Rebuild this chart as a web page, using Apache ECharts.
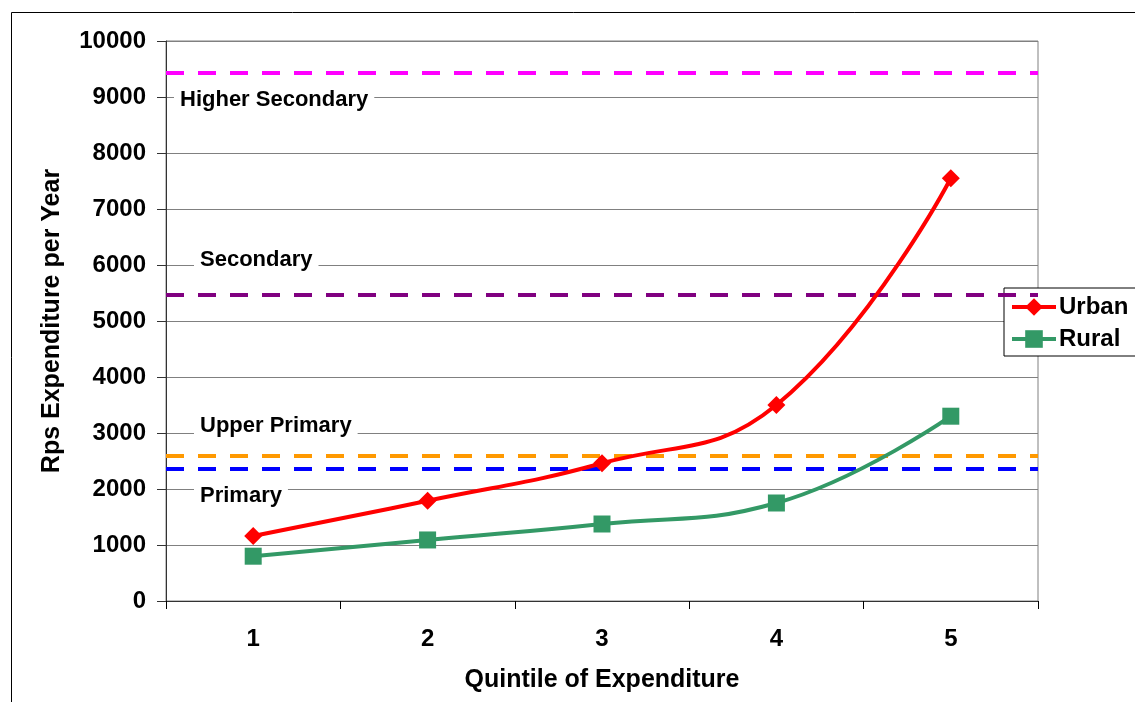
<!DOCTYPE html>
<html>
<head>
<meta charset="utf-8">
<script src="https://cdn.jsdelivr.net/npm/echarts@6/dist/echarts.min.js"></script>
<style>
html,body{margin:0;padding:0;background:#fff;}
#c{width:1135px;height:702px;}
</style>
</head>
<body>
<div id="c"></div>
<script>
var categories = ['1', '2', '3', '4', '5'];
var urban = [1160, 1790, 2460, 3500, 7550];
var rural = [800, 1090, 1375, 1750, 3300];
var refNames = ['Higher Secondary', 'Secondary', 'Upper Primary', 'Primary'];
var refValues = [9440, 5460, 2590, 2360];
var refColors = ['#FF00FF', '#800080', '#FF9900', '#0000FF'];

var FONT = 'Liberation Sans, Arial, sans-serif';
var chart = echarts.init(document.getElementById('c'), null, {renderer: 'canvas'});

var markData = refValues.map(function (v, i) {
  return {yAxis: v, lineStyle: {color: refColors[i], type: [18, 14], width: 4}};
});

var labelPos = [
  {x: 180, y: 100},
  {x: 200, y: 260},
  {x: 200, y: 426},
  {x: 200, y: 496}
];

var graphics = [{
  type: 'rect', z: 100, silent: true,
  shape: {x: 11.5, y: 12.5, width: 2000, height: 2000},
  style: {fill: 'none', stroke: '#000', lineWidth: 1}
}];
refNames.forEach(function (n, i) {
  graphics.push({
    type: 'text', z: 50,
    x: labelPos[i].x - 6, y: labelPos[i].y,
    style: {
      text: n, font: 'bold 22px ' + FONT, fill: '#000',
      verticalAlign: 'middle', backgroundColor: '#fff', padding: [2, 6]
    }
  });
});

chart.setOption({
  backgroundColor: '#fff',
  animation: false,
  grid: {left: 166, right: 97, top: 41, bottom: 101, show: true, borderColor: '#808080', borderWidth: 1},
  legend: {
    orient: 'vertical', left: 1004, top: 288,
    padding: [7, 20, 5, 6],
    backgroundColor: '#fff', borderColor: '#000', borderWidth: 1,
    itemWidth: 44, itemHeight: 22, itemGap: 8,
    lineStyle: {width: 4},
    textStyle: {fontFamily: FONT, fontWeight: 'bold', fontSize: 24, color: '#000', padding: [0, 0, 0, -2]},
    data: ['Urban', 'Rural']
  },
  xAxis: {
    type: 'category', data: categories, boundaryGap: true,
    name: 'Quintile of Expenditure', nameLocation: 'middle', nameGap: 67,
    nameTextStyle: {fontFamily: FONT, fontWeight: 'bold', fontSize: 25, color: '#000'},
    axisLine: {lineStyle: {color: '#333', width: 1}},
    axisTick: {show: true, length: 8, inside: false, lineStyle: {color: '#000'}},
    axisLabel: {fontFamily: FONT, fontWeight: 'bold', fontSize: 24, color: '#000', margin: 26},
    splitLine: {show: false}
  },
  yAxis: {
    type: 'value', min: 0, max: 10000, interval: 1000,
    name: 'Rps Expenditure per Year', nameLocation: 'middle', nameGap: 101,
    nameTextStyle: {fontFamily: FONT, fontWeight: 'bold', fontSize: 25, color: '#000'},
    axisLine: {show: true, lineStyle: {color: '#333', width: 1}},
    axisTick: {show: true, length: 9, inside: false, lineStyle: {color: '#333'}},
    axisLabel: {fontFamily: FONT, fontWeight: 'bold', fontSize: 24, color: '#000', margin: 20,
      formatter: function (v) { return String(v); }},
    splitLine: {show: true, lineStyle: {color: '#808080', width: 1}}
  },
  graphic: graphics,
  series: [
    {
      name: 'Urban', type: 'line', data: urban, smooth: 0.45, z: 10,
      symbol: 'diamond', symbolSize: 18,
      itemStyle: {color: '#FF0000'},
      lineStyle: {color: '#FF0000', width: 4},
      markLine: {
        silent: true, symbol: 'none', label: {show: false}, z: 5,
        data: markData
      }
    },
    {
      name: 'Rural', type: 'line', data: rural, smooth: 0.45, z: 10,
      symbol: 'rect', symbolSize: 17,
      itemStyle: {color: '#339966'},
      lineStyle: {color: '#339966', width: 4}
    }
  ]
});
</script>
</body>
</html>
